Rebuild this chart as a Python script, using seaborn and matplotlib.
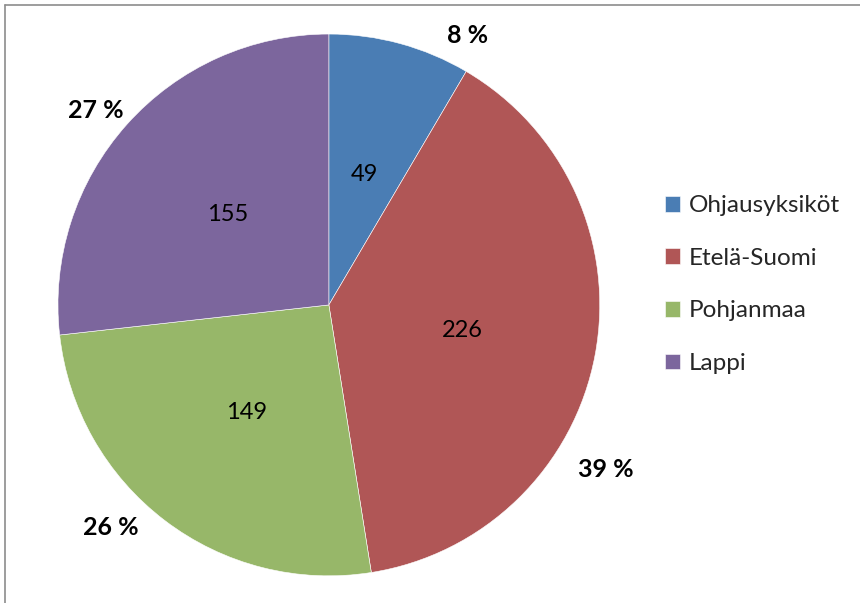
import matplotlib.pyplot as plt
import seaborn as sns
import numpy as np
from matplotlib.lines import Line2D

# Data
regions = ['Ohjausyksiköt', 'Etelä-Suomi', 'Pohjanmaa', 'Lappi']
counts = [49, 226, 149, 155]
colors = ['#4A7DB4', '#B05656', '#97B769', '#7C669D']

sns.set_theme(style='white')
plt.rcParams['font.family'] = ['Lato', 'DejaVu Sans']

fig = plt.figure(figsize=(8.6, 6.03), dpi=100)
ax = fig.add_axes([0.0674, 0.0448, 0.630, 0.899])

total = sum(counts)
wedges, texts, autotexts = ax.pie(
    counts, colors=colors, startangle=90, counterclock=False,
    labels=[f'{round(c / total * 100)} %' for c in counts],
    labeldistance=1.13,
    autopct=lambda p: f'{round(p * total / 100)}', pctdistance=0.5,
    wedgeprops=dict(edgecolor='white', linewidth=0.4),
    textprops=dict(fontsize=17))

# nudge the outer percent labels like Excel's best-fit placement
nudge = [(-12, 1.12), (-20, 1.19), (-7, 1.15), (2, 1.12)]
for w, t, (da, r) in zip(wedges, texts, nudge):
    mid = np.deg2rad((w.theta1 + w.theta2) / 2 + da)
    t.set_position((r * np.cos(mid), r * np.sin(mid)))
    t.set_ha('center')
    t.set_va('center')
    t.set_fontweight('bold')
    t.set_fontsize(18)
    t.set_color('black')
for t in autotexts:
    t.set_color('black')

ax.set_xlim(-1, 1)
ax.set_ylim(-1, 1)
ax.set_aspect('equal')

ax.legend(wedges, regions, loc='center left', bbox_to_anchor=(0.748, 0.528),
          bbox_transform=fig.transFigure, frameon=False, fontsize=17.5,
          handlelength=0.62, handleheight=0.62, handletextpad=0.35,
          labelspacing=1.3)

# chart area border (top and left visible)
fig.add_artist(Line2D([5 / 860, 1], [1 - 5 / 603] * 2, color='#8c8c8c', lw=1.2,
                      transform=fig.transFigure))
fig.add_artist(Line2D([5 / 860] * 2, [0, 1 - 5 / 603], color='#8c8c8c', lw=1.2,
                      transform=fig.transFigure))

plt.savefig('out.png', dpi=100)
